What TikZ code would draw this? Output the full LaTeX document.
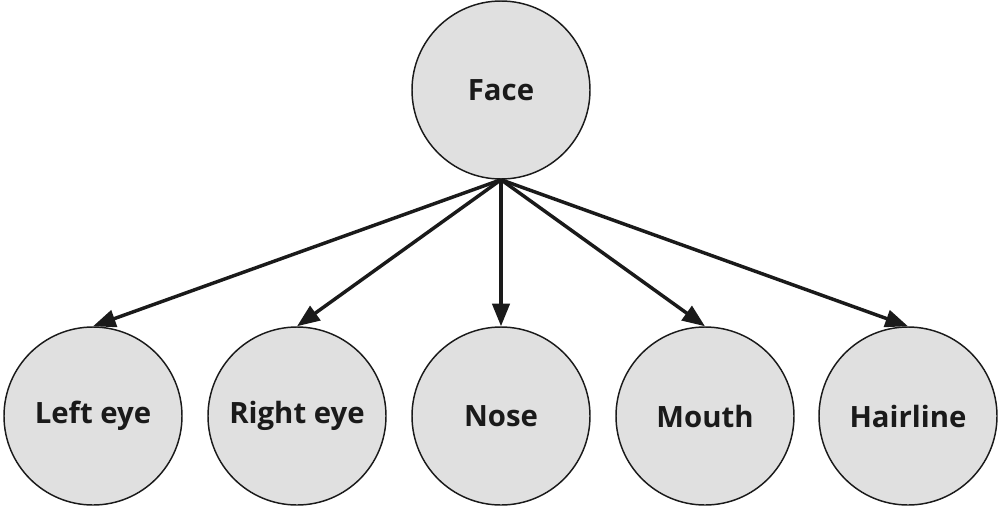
\documentclass[tikz,border=0pt]{standalone}
\usepackage{fontspec}
\setmainfont{Open Sans}
\usetikzlibrary{arrows.meta}
\definecolor{nodefill}{HTML}{E0E0E0}
\definecolor{ink}{HTML}{1A1A1A}
\tikzset{
  bubble/.style={circle, draw=ink, line width=1.1pt, fill=nodefill, minimum size=133.5pt, inner sep=0pt,
    font=\fontsize{22}{26}\selectfont\bfseries, text=ink},
  link/.style={draw=ink, line width=2.6pt, -{Triangle[length=17pt,width=13pt]}, shorten >=0pt}
}
\begin{document}
\begin{tikzpicture}[x=0.75pt,y=-0.75pt]
\useasboundingbox (0,0) rectangle (1000,508);
\node[bubble] (face) at (501,90) {Face};
\node[bubble] (left) at (93,416) {Left eye};
\node[bubble] (right) at (297,416) {Right eye};
\node[bubble] (nose) at (501,416) {Nose};
\node[bubble] (mouth) at (705,416) {Mouth};
\node[bubble] (hair) at (908,416) {Hairline};
\foreach \t in {left,right,nose,mouth,hair}
  \draw[link] (face.south) -- (\t.north);
\end{tikzpicture}
\end{document}
